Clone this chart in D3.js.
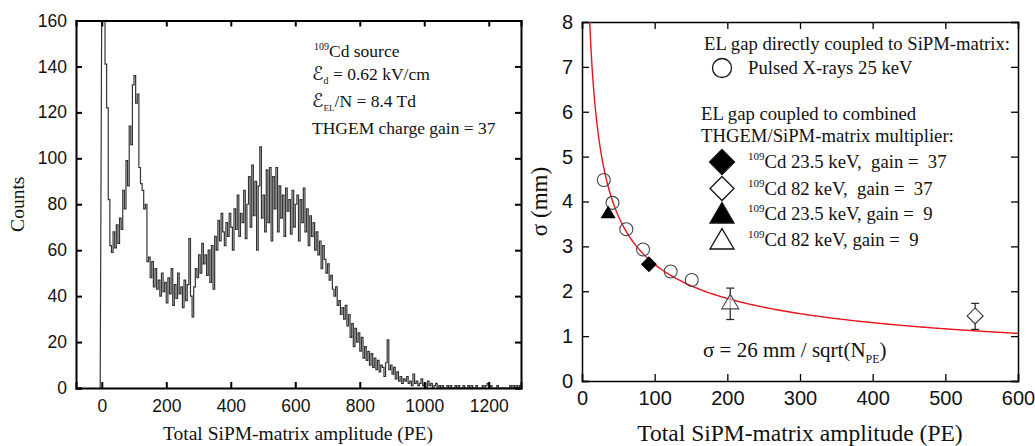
<!DOCTYPE html>
<html>
<head>
<meta charset="utf-8">
<script src="https://cdn.jsdelivr.net/npm/d3@7"></script>
<style>
  body { margin: 0; background: #fff; }
  svg { font-family: "Liberation Serif", "Times New Roman", serif; }
  svg text { white-space: pre; }
  .axis path, .axis line { stroke: #000; }
  .axis text { fill: #111; }
</style>
</head>
<body>
<div id="chart"></div>
<script>
// ---- data: left panel histogram (5 PE bins, counts per bin start) ----
const binWidth = 5;
const binStart = 0;
const counts = [
  400, 300, 141, 122, 82, 62, 59, 68, 61, 71,
  63, 74, 69, 86, 78, 99, 88, 114, 106, 132,
  136, 124, 128, 96, 89, 86, 78, 80, 55, 57,
  48, 55, 44, 52, 43, 47, 40, 50, 42, 46,
  37, 48, 41, 52, 36, 45, 39, 50, 41, 44,
  35, 47, 38, 45, 65, 40, 31, 44, 52, 48,
  58, 50, 63, 54, 58, 49, 60, 46, 62, 43,
  66, 60, 73, 64, 76, 68, 62, 72, 66, 76,
  70, 60, 78, 69, 84, 66, 76, 72, 86, 65,
  80, 92, 70, 97, 75, 90, 60, 88, 105, 74,
  84, 68, 95, 72, 96, 64, 92, 78, 96, 68,
  88, 74, 84, 66, 87, 77, 82, 67, 86, 70,
  80, 84, 64, 82, 72, 87, 68, 78, 62, 75,
  66, 72, 60, 68, 58, 64, 52, 62, 56, 50,
  54, 47, 49, 43, 40, 44, 36, 38, 32, 35,
  30, 36, 27, 32, 22, 28, 18, 26, 20, 24,
  16, 22, 13, 18, 12, 16, 10, 15, 9, 13,
  8, 12, 7, 10, 9, 5, 11, 21, 8, 10,
  6, 9, 4, 7, 3, 5, 2, 4, 3, 5,
  2, 3, 1, 6, 2, 3, 1, 2, 4, 1,
  2, 0, 3, 1, 2, 0, 1, 2, 0, 1,
  0, 1, 0, 0, 1, 0, 1, 0, 0, 1,
  0, 1, 0, 0, 1, 0, 0, 1, 0, 1,
  0, 0, 1, 0, 0, 0, 1, 0, 1, 2,
  0, 1, 0, 0, 0, 1, 0, 0, 0, 0,
  0, 0, 0, 1, 0, 1, 0, 1, 0, 1
];
const histXTicks = [0, 200, 400, 600, 800, 1000, 1200];
const histYTicks = [0, 20, 40, 60, 80, 100, 120, 140, 160];

// ---- data: right panel sigma vs N_PE ----
const pulsedX = [
  {n: 30, s: 4.48}, {n: 42, s: 3.97}, {n: 61, s: 3.38},
  {n: 84, s: 2.93}, {n: 122, s: 2.44}, {n: 151, s: 2.25}
];
const cd235g37 = [{n: 92, s: 2.6}];
const cd82g37 = [{n: 541, s: 1.45, lo: 1.15, hi: 1.73}];
const cd235g9 = [{n: 36, s: 3.75}];
const cd82g9 = [{n: 204, s: 1.75, lo: 1.37, hi: 2.07}];
const fitCoef = 26;   // sigma = 26 mm / sqrt(N_PE)
const sigXTicks = [0, 100, 200, 300, 400, 500, 600];
const sigYTicks = [0, 1, 2, 3, 4, 5, 6, 7, 8];

const W = 1035, H = 446;
const svg = d3.select("#chart").append("svg").attr("width", W).attr("height", H);
const fmt = d3.format("d");

/* ================= left panel ================= */
let L = {x0: 76, x1: 521, y0: 20.5, y1: 388};
let xH = d3.scaleLinear().domain([-80, 1300]).range([L.x0, L.x1]);
let yH = d3.scaleLinear().domain([0, 160]).range([L.y1, L.y0]);

svg.append("clipPath").attr("id", "clipL")
  .append("rect").attr("x", L.x0).attr("y", L.y0)
  .attr("width", L.x1 - L.x0).attr("height", L.y1 - L.y0);

// step path of the histogram
let steps = [[binStart - binWidth, 0]];
counts.forEach((c, i) => {
  let e = binStart + i * binWidth;
  steps.push([e, c]);
  steps.push([e + binWidth, c]);
});
let histLine = d3.line()
  .x(d => xH(d[0]))
  .y(d => yH(Math.min(d[1], 175)));

svg.append("path")
  .attr("clip-path", "url(#clipL)")
  .attr("d", histLine(steps))
  .attr("fill", "none")
  .attr("stroke", "#333")
  .attr("stroke-width", 1.2);

// axes, ticks pointing inside
svg.append("g").attr("class", "axis")
  .attr("transform", "translate(0," + L.y1 + ")")
  .call(d3.axisBottom(xH).tickValues(histXTicks).tickSize(-6).tickPadding(12).tickFormat(fmt))
  .call(g => g.selectAll("text").attr("font-size", 17.5));
svg.append("g").attr("class", "axis")
  .attr("transform", "translate(0," + L.y0 + ")")
  .call(d3.axisTop(xH).tickValues(histXTicks).tickSize(-6).tickFormat(""));
svg.append("g").attr("class", "axis")
  .attr("transform", "translate(" + L.x0 + ",0)")
  .call(d3.axisLeft(yH).tickValues(histYTicks).tickSize(-6).tickPadding(9))
  .call(g => g.selectAll("text").attr("font-size", 17.5));
svg.append("g").attr("class", "axis")
  .attr("transform", "translate(" + L.x1 + ",0)")
  .call(d3.axisRight(yH).tickValues(histYTicks).tickSize(-6).tickFormat(""));
svg.selectAll(".axis line").attr("stroke-width", 2);
svg.selectAll(".axis path").attr("stroke-width", 2);

svg.append("text")
  .attr("x", 298).attr("y", 440)
  .attr("text-anchor", "middle").attr("font-size", 19.5).attr("fill", "#111")
  .text("Total SiPM-matrix amplitude (PE)");
svg.append("text")
  .attr("transform", "translate(24," + ((L.y0 + L.y1) / 2) + ") rotate(-90)")
  .attr("text-anchor", "middle").attr("font-size", 19.5).attr("fill", "#111")
  .text("Counts");

// annotation
let ann = svg.append("g").attr("font-size", 17.5).attr("fill", "#111");
let t1 = ann.append("text").attr("x", 314).attr("y", 57);
t1.append("tspan").attr("font-size", 10).attr("dy", -7).text("109");
t1.append("tspan").attr("dy", 7).text("Cd source");
let t2 = ann.append("text").attr("x", 312).attr("y", 80);
t2.append("tspan").attr("font-family", "DejaVu Serif, DejaVu Sans").attr("font-style", "italic").attr("font-size", 19).text("ℰ");
t2.append("tspan").attr("font-size", 10).attr("dy", 4).text("d");
t2.append("tspan").attr("dy", -4).text(" = 0.62 kV/cm");
let t3 = ann.append("text").attr("x", 312).attr("y", 107);
t3.append("tspan").attr("font-family", "DejaVu Serif, DejaVu Sans").attr("font-style", "italic").attr("font-size", 19).text("ℰ");
t3.append("tspan").attr("font-size", 9).attr("dy", 4).text("EL");
t3.append("tspan").attr("dy", -4).text("/N = 8.4 Td");
ann.append("text").attr("x", 312).attr("y", 134).text("THGEM charge gain = 37");

/* ================= right panel ================= */
let R = {x0: 582, x1: 1018, y0: 22, y1: 381};
let xS = d3.scaleLinear().domain([0, 600]).range([R.x0, R.x1]);
let yS = d3.scaleLinear().domain([0, 8]).range([R.y1, R.y0]);

let axR = svg.append("g");
axR.append("g").attr("class", "axis")
  .attr("transform", "translate(0," + R.y1 + ")")
  .call(d3.axisBottom(xS).tickValues(sigXTicks).tickSize(-7).tickPadding(10).tickFormat(fmt))
  .call(g => g.selectAll("text").attr("font-size", 20));
axR.append("g").attr("class", "axis")
  .attr("transform", "translate(0," + R.y0 + ")")
  .call(d3.axisTop(xS).tickValues(sigXTicks).tickSize(-7).tickFormat(""));
axR.append("g").attr("class", "axis")
  .attr("transform", "translate(" + R.x0 + ",0)")
  .call(d3.axisLeft(yS).tickValues(sigYTicks).tickSize(-7).tickPadding(9))
  .call(g => g.selectAll("text").attr("font-size", 20));
axR.append("g").attr("class", "axis")
  .attr("transform", "translate(" + R.x1 + ",0)")
  .call(d3.axisRight(yS).tickValues(sigYTicks).tickSize(-7).tickFormat(""));
axR.selectAll("line").attr("stroke-width", 1.3);
axR.selectAll("path").attr("stroke-width", 1.5);

svg.append("text")
  .attr("x", 800).attr("y", 441)
  .attr("text-anchor", "middle").attr("font-size", 23.5).attr("fill", "#111")
  .text("Total SiPM-matrix amplitude (PE)");
svg.append("text")
  .attr("transform", "translate(547," + ((R.y0 + R.y1) / 2) + ") rotate(-90)")
  .attr("text-anchor", "middle").attr("font-size", 23).attr("fill", "#111")
  .text("σ (mm)");

svg.append("clipPath").attr("id", "clipR")
  .append("rect").attr("x", R.x0).attr("y", R.y0)
  .attr("width", R.x1 - R.x0).attr("height", R.y1 - R.y0);

// fit curve
let fitN = d3.range(10, 601, 2);
svg.append("path")
  .attr("clip-path", "url(#clipR)")
  .attr("d", d3.line().x(n => xS(n)).y(n => yS(fitCoef / Math.sqrt(n)))(fitN))
  .attr("fill", "none").attr("stroke", "#e8141c").attr("stroke-width", 1.4);

// error bars
[...cd82g37, ...cd82g9].forEach(d => {
  let g = svg.append("g").attr("stroke", "#222").attr("stroke-width", 1.2);
  g.append("line").attr("x1", xS(d.n)).attr("x2", xS(d.n)).attr("y1", yS(d.lo)).attr("y2", yS(d.hi));
  g.append("line").attr("x1", xS(d.n) - 4).attr("x2", xS(d.n) + 4).attr("y1", yS(d.lo)).attr("y2", yS(d.lo));
  g.append("line").attr("x1", xS(d.n) - 4).attr("x2", xS(d.n) + 4).attr("y1", yS(d.hi)).attr("y2", yS(d.hi));
});

const diamond = s => "M0," + (-s) + "L" + s + ",0L0," + s + "L" + (-s) + ",0Z";
const triangle = s => "M0," + (-s * 0.95) + "L" + s + "," + (s * 0.75) + "L" + (-s) + "," + (s * 0.75) + "Z";

svg.selectAll(".pulsed").data(pulsedX).enter().append("circle")
  .attr("cx", d => xS(d.n)).attr("cy", d => yS(d.s)).attr("r", 6.5)
  .attr("fill", "none").attr("stroke", "#444").attr("stroke-width", 1.1);
svg.selectAll(".d37").data(cd235g37).enter().append("path")
  .attr("transform", d => "translate(" + xS(d.n) + "," + yS(d.s) + ")")
  .attr("d", diamond(8)).attr("fill", "#000");
svg.selectAll(".d82").data(cd82g37).enter().append("path")
  .attr("transform", d => "translate(" + xS(d.n) + "," + yS(d.s) + ")")
  .attr("d", diamond(8)).attr("fill", "#fff").attr("stroke", "#333").attr("stroke-width", 1.1);
svg.selectAll(".t9").data(cd235g9).enter().append("path")
  .attr("transform", d => "translate(" + xS(d.n) + "," + yS(d.s) + ")")
  .attr("d", triangle(7.5)).attr("fill", "#000");
svg.selectAll(".t82").data(cd82g9).enter().append("path")
  .attr("transform", d => "translate(" + xS(d.n) + "," + yS(d.s) + ")")
  .attr("d", triangle(8.5)).attr("fill", "#fff").attr("fill-opacity", 0.6).attr("stroke", "#444").attr("stroke-width", 1.1);

// legend
let leg = svg.append("g").attr("font-size", 18.7).attr("fill", "#111");
leg.append("text").attr("x", 704).attr("y", 50).text("EL gap directly coupled to SiPM-matrix:");
leg.append("circle").attr("cx", 722).attr("cy", 68).attr("r", 9.5)
  .attr("fill", "none").attr("stroke", "#111").attr("stroke-width", 1.3);
leg.append("text").attr("x", 748).attr("y", 74).text("Pulsed X-rays 25 keV");
leg.append("text").attr("x", 701).attr("y", 120).text("EL gap coupled to combined");
leg.append("text").attr("x", 701).attr("y", 142).text("THGEM/SiPM-matrix multiplier:");

const legRows = [
  {y: 162, sym: diamond(12.5), fill: "#000", label: "Cd 23.5 keV,  gain =  37"},
  {y: 188.5, sym: diamond(12), fill: "#fff", label: "Cd 82 keV,  gain =  37"},
  {y: 214, sym: triangle(12), fill: "#000", label: "Cd 23.5 keV, gain =  9"},
  {y: 240, sym: triangle(12), fill: "#fff", label: "Cd 82 keV, gain =  9"}
];
legRows.forEach(r => {
  leg.append("path").attr("transform", "translate(722," + r.y + ")")
    .attr("d", r.sym).attr("fill", r.fill).attr("stroke", "#111").attr("stroke-width", 1.3);
  let t = leg.append("text").attr("x", 748).attr("y", r.y + 6);
  t.append("tspan").attr("font-size", 11).attr("dy", -8).text("109");
  t.append("tspan").attr("dy", 8).text(r.label);
});

// fit formula
let f = svg.append("text").attr("x", 703).attr("y", 357).attr("font-size", 21).attr("fill", "#111");
f.append("tspan").text("σ = 26 mm / sqrt(N");
f.append("tspan").attr("font-size", 12).attr("dy", 6).text("PE");
f.append("tspan").attr("dy", -6).text(")");
</script>
</body>
</html>
